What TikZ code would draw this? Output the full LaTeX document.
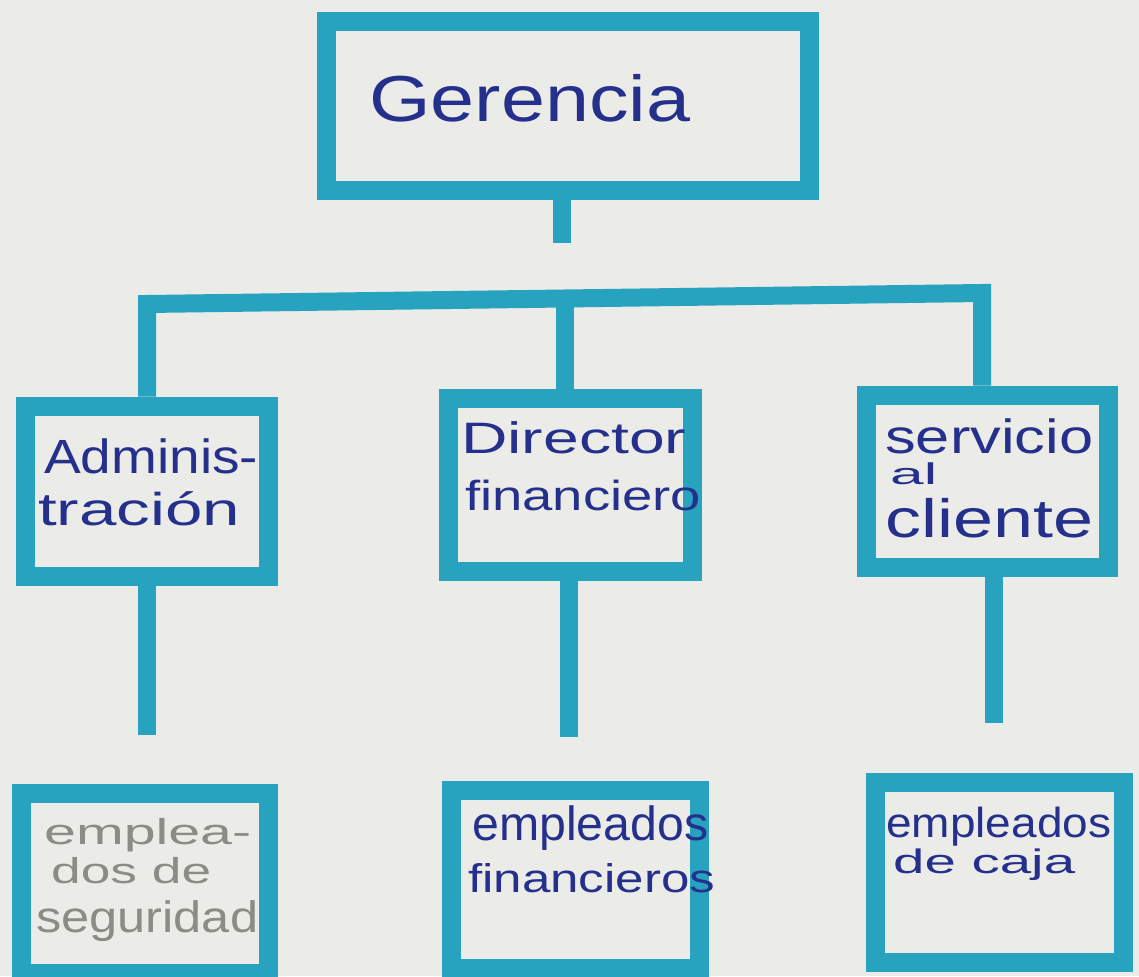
\documentclass[tikz,border=0pt]{standalone}
\usepackage{fontspec}
\setmainfont{Liberation Sans}
\usepackage{graphicx}
\definecolor{paper}{HTML}{EBEBE8}
\definecolor{teal}{HTML}{27A2BF}
\definecolor{ink}{HTML}{25308C}
\definecolor{pencil}{HTML}{8C8C86}
% width, font size, text
\newcommand{\hw}[3]{\resizebox{#1pt}{\height}{\fontsize{#2}{#2}\selectfont #3}}
\begin{document}
\begin{tikzpicture}[x=1pt,y=-1pt,
  orgbox/.style={draw=teal, line width=19pt, rectangle, inner sep=0pt, fill=paper},
  conn/.style={draw=teal, line width=18pt, line cap=butt, line join=miter},
  txt/.style={inner sep=0pt, anchor=base west, text=ink},
  txtg/.style={inner sep=0pt, anchor=base west, text=pencil}]
\useasboundingbox (0,0) rectangle (1139,976);
\clip (0,0) rectangle (1139,976);
\fill[paper] (0,0) rectangle (1139,976);

% boxes
\node[orgbox, minimum width=483pt, minimum height=169pt] (ger) at (568,106) {};
\node[orgbox, minimum width=243pt, minimum height=170pt] (adm) at (147,491) {};
\node[orgbox, minimum width=244pt, minimum height=173pt] (dir) at (570,485) {};
\node[orgbox, minimum width=242pt, minimum height=172pt] (serv) at (987,481) {};
\node[orgbox, minimum width=247pt, minimum height=180pt] (seg) at (145,883) {};
\node[orgbox, minimum width=248pt, minimum height=178pt] (fin) at (575,879) {};
\node[orgbox, minimum width=248pt, minimum height=180pt] (caja) at (999,872) {};

% connectors
\coordinate (gstem) at (562,243);
\coordinate (bL) at (147,304);
\coordinate (bM) at (565,299);
\coordinate (bR) at (982,293);
\coordinate (sL) at (147,735);
\coordinate (sM) at (569,737);
\coordinate (sR) at (994,723);
\draw[conn] (gstem |- ger.south) -- (gstem);
\draw[conn] (bL |- adm.north) -- (bL) -- (bR) -- (bR |- serv.north);
\draw[conn] (bM |- dir.north) -- (bM);
\draw[conn] (sL |- adm.south) -- (sL);
\draw[conn] (sM |- dir.south) -- (sM);
\draw[conn] (sR |- serv.south) -- (sR);

% texts
\node[txt] (tger) at (369,122) {\hw{321}{65}{Gerencia}};
\node[txt] (tadm1) at (44,473) {\hw{214}{48}{Adminis-}};
\node[txt] (tadm2) at (38,525) {\hw{202}{46}{tración}};
\node[txt] (tdir1) at (461,453) {\hw{225}{44}{Director}};
\node[txt] (tdir2) at (465,510) {\hw{236}{42}{financiero}};
\node[txt] (tser1) at (885,453) {\hw{208}{48}{servicio}};
\node[txt] (tser2) at (890,484) {\hw{47}{30}{al}};
\node[txt] (tser3) at (885,537) {\hw{208}{54}{cliente}};
\node[txtg] (tseg1) at (44,844) {\hw{207}{36}{emplea-}};
\node[txtg] (tseg2) at (51,883) {\hw{160}{36}{dos de}};
\node[txtg] (tseg3) at (36,932) {\hw{222}{44}{seguridad}};
\node[txt] (tfin1) at (472,840) {\hw{236}{48}{empleados}};
\node[txt] (tfin2) at (468,892) {\hw{247}{40}{financieros}};
\node[txt] (tcaj1) at (886,837) {\hw{225}{42}{empleados}};
\node[txt] (tcaj2) at (893,873) {\hw{182}{34}{de caja}};
\end{tikzpicture}
\end{document}
